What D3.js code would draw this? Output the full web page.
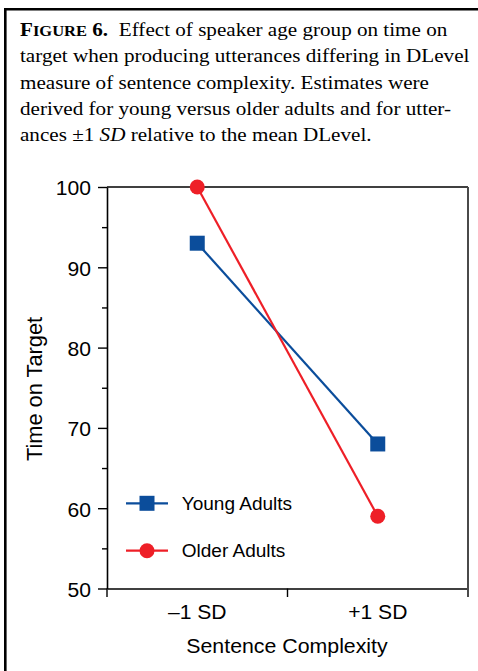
<!DOCTYPE html>
<html>
<head>
<meta charset="utf-8">
<script src="https://cdn.jsdelivr.net/npm/d3@7"></script>
<style>
  body { margin: 0; background: #fff; }
  svg { display: block; }
</style>
</head>
<body>
<script>
// Canvas size of the figure
var width = 478;
var height = 671;

// Chart values
var categories = ["\u20131 SD", "+1 SD"];
var youngAdults = [93, 68];
var olderAdults = [100, 59];
var seriesNames = ["Young Adults", "Older Adults"];
var yTicks = [50, 60, 70, 80, 90, 100];
var yMinorTicks = [55, 65, 75, 85, 95];

// Caption lines
var captionLines = [
    "target when producing utterances differing in DLevel",
    "measure of sentence complexity. Estimates were",
    "derived for young versus older adults and for utter-"
];

var blue = "#0b4d9b";
var red = "#ee1f27";
var sans = "'Liberation Sans', Arial, sans-serif";
var serif = "'Liberation Serif', 'Times New Roman', serif";

var svg = d3.select("body")
    .append("svg")
    .attr("width", width)
    .attr("height", height);

// Frame round the figure (only left and top are inside the picture)
svg.append("path")
    .attr("d", "M5.3,672V9.3H479")
    .attr("fill", "none")
    .attr("stroke", "#000")
    .attr("stroke-width", 2.6);

// Caption
var caption = svg.append("g")
    .attr("font-family", serif)
    .attr("font-size", 19.2)
    .attr("fill", "#000");

var first = caption.append("text")
    .attr("transform", "translate(20,36) scale(1.1,1)");
first.append("tspan").attr("font-weight", "bold").text("F");
first.append("tspan").attr("font-weight", "bold").attr("font-size", 15).text("IGURE");
first.append("tspan").attr("font-weight", "bold").text(" 6.");
first.append("tspan").attr("dx", 5).text(" Effect of speaker age group on time on");

captionLines.forEach(function (line, i) {
    caption.append("text")
        .attr("transform", "translate(20," + (62.3 + i * 26.3) + ") scale(1.1,1)")
        .text(line);
});

var last = caption.append("text")
    .attr("transform", "translate(20,141.3) scale(1.1,1)");
last.append("tspan").text("ances \u00b11 ");
last.append("tspan").attr("font-style", "italic").text("SD");
last.append("tspan").text(" relative to the mean DLevel.");

// Scales
var x = d3.scaleBand()
    .domain(categories)
    .range([107, 468]);

var y = d3.scaleLinear()
    .domain([50, 100])
    .range([588.5, 187]);

var chart = svg.append("g")
    .attr("font-family", sans);

// Y axis, major and minor ticks
var yAxis = chart.append("g")
    .attr("transform", "translate(107,0)")
    .call(d3.axisLeft(y).tickValues(yTicks).tickSize(9).tickPadding(6.5).tickSizeOuter(0));

yAxis.select(".domain").attr("stroke-width", 1.6);
yAxis.selectAll(".tick line").attr("stroke-width", 1.4);
yAxis.selectAll("text")
    .attr("font-size", 20.5)
    .attr("font-family", sans)
    .attr("dy", "0.38em")
    .attr("transform", "scale(1.03,1)");

chart.append("g")
    .attr("transform", "translate(107,0)")
    .call(d3.axisLeft(y).tickValues(yMinorTicks).tickSize(5).tickFormat("").tickSizeOuter(0))
    .call(function (g) {
        g.select(".domain").remove();
        g.selectAll(".tick line").attr("stroke-width", 1.4);
    });

// X axis: labels in band centres, ticks at band edges
var xAxis = chart.append("g")
    .attr("transform", "translate(0,588.5)")
    .call(d3.axisBottom(x).tickSize(0).tickPadding(15.5).tickSizeOuter(0));

xAxis.select(".domain").attr("stroke-width", 1.6);
xAxis.selectAll("text")
    .attr("font-size", 20.5)
    .attr("font-family", sans)
    .attr("transform", "scale(1.03,1)");

var edges = categories.map(function (c) { return x(c); });
chart.append("g")
    .selectAll("line")
    .data(edges)
    .enter()
    .append("line")
    .attr("x1", function (d) { return d; })
    .attr("x2", function (d) { return d; })
    .attr("y1", 588.5)
    .attr("y2", 597)
    .attr("stroke", "#000")
    .attr("stroke-width", 1.4);

// Top and right sides of the plot box
chart.append("line")
    .attr("x1", x.range()[0])
    .attr("x2", x.range()[1])
    .attr("y1", y(100))
    .attr("y2", y(100))
    .attr("stroke", "#000")
    .attr("stroke-width", 1.6);

chart.append("line")
    .attr("x1", x.range()[1])
    .attr("x2", x.range()[1])
    .attr("y1", y(100))
    .attr("y2", 597)
    .attr("stroke", "#4a4a4a")
    .attr("stroke-width", 2);

// Axis titles
chart.append("text")
    .attr("transform", "translate(287,652.5) scale(1.04,1)")
    .attr("text-anchor", "middle")
    .attr("font-size", 20.5)
    .text("Sentence Complexity");

chart.append("text")
    .attr("transform", "translate(41.5,389) rotate(-90)")
    .attr("text-anchor", "middle")
    .attr("font-size", 21.8)
    .text("Time on Target");

// Series
var cx = function (c) { return x(c) + x.bandwidth() / 2; };
var line = d3.line()
    .x(function (d, i) { return cx(categories[i]); })
    .y(function (d) { return y(d); });

chart.append("path")
    .datum(youngAdults)
    .attr("d", line)
    .attr("fill", "none")
    .attr("stroke", blue)
    .attr("stroke-width", 2.2);

chart.append("path")
    .datum(olderAdults)
    .attr("d", line)
    .attr("fill", "none")
    .attr("stroke", red)
    .attr("stroke-width", 2.2);

chart.selectAll(".sq")
    .data(youngAdults)
    .enter()
    .append("rect")
    .attr("class", "sq")
    .attr("x", function (d, i) { return cx(categories[i]) - 7.5; })
    .attr("y", function (d) { return y(d) - 7.5; })
    .attr("width", 15)
    .attr("height", 15)
    .attr("fill", blue);

chart.selectAll(".dot")
    .data(olderAdults)
    .enter()
    .append("circle")
    .attr("class", "dot")
    .attr("cx", function (d, i) { return cx(categories[i]); })
    .attr("cy", function (d) { return y(d); })
    .attr("r", 7.5)
    .attr("fill", red);

// Legend
var legend = chart.selectAll(".legend")
    .data(seriesNames)
    .enter()
    .append("g")
    .attr("class", "legend")
    .attr("transform", function (d, i) { return "translate(126," + (503.3 + i * 47.4) + ")"; });

legend.append("line")
    .attr("x1", 0)
    .attr("x2", 42)
    .attr("stroke", function (d, i) { return i ? red : blue; })
    .attr("stroke-width", 2.2);

legend.filter(function (d, i) { return i === 0; })
    .append("rect")
    .attr("x", 13.5)
    .attr("y", -7.5)
    .attr("width", 15)
    .attr("height", 15)
    .attr("fill", blue);

legend.filter(function (d, i) { return i === 1; })
    .append("circle")
    .attr("cx", 21)
    .attr("r", 7.5)
    .attr("fill", red);

legend.append("text")
    .attr("transform", "translate(55.7,6.5) scale(1.07,1)")
    .attr("font-size", 17.8)
    .text(function (d) { return d; });
</script>
</body>
</html>
